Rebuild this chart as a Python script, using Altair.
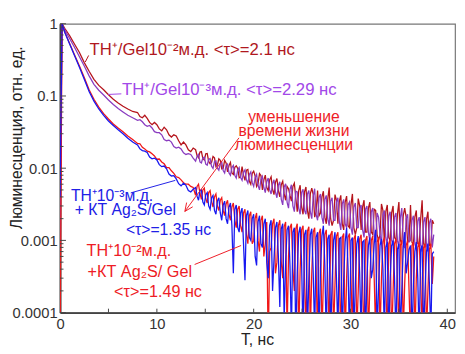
import altair as alt
import pandas as pd

# ---------------- data ----------------
t_early = [0.0, 0.2, 0.5, 1.0, 1.5, 2.0, 2.5, 3.0, 3.5, 4.0, 4.5, 5.0, 5.5, 6.0, 6.5, 7.0, 7.5]
t_mid = [8.0, 8.5, 9.0, 9.5, 10.0, 10.5, 11.0, 11.5, 12.0, 12.5, 13.0, 13.5]
t_mid2 = [8.25, 8.75, 9.25, 9.75, 10.25, 10.75, 11.25, 11.75, 12.25, 12.75, 13.25, 13.75]
t_tail = [round(14.0 + 0.3 * i, 2) for i in range(83)]    # 14.0 ... 38.6 ns
t_tail2 = [round(14.15 + 0.3 * i, 2) for i in range(82)]  # 14.15 ... 38.45 ns
times = t_early + t_mid + t_mid2 + t_tail + t_tail2

# TH+/Gel 10^-2 (dark red)
dr_early = [0.002, 1.0, 0.86, 0.68, 0.52, 0.40, 0.29, 0.22, 0.17, 0.14, 0.122, 0.104, 0.09, 0.08, 0.072, 0.066, 0.061]
dr_mid = [0.059, 0.050, 0.049, 0.040, 0.040, 0.033, 0.034, 0.027, 0.028, 0.021, 0.021, 0.017]
dr_mid2 = [0.052, 0.054, 0.043, 0.043, 0.035, 0.037, 0.029, 0.029, 0.024, 0.023, 0.018, 0.019]
dr_tail = [0.018, 0.014, 0.017, 0.013, 0.016, 0.0115, 0.0145, 0.0105, 0.0135, 0.0098,
           0.0128, 0.0089, 0.012, 0.0082, 0.0108, 0.0074, 0.0105, 0.0068, 0.0096, 0.006,
           0.0091, 0.0056, 0.0084, 0.005, 0.008, 0.0049, 0.0076, 0.0043, 0.0072, 0.004,
           0.0066, 0.0036, 0.0052, 0.0035, 0.0062, 0.0025, 0.0058, 0.0023, 0.0055, 0.002,
           0.0053, 0.0021, 0.0049, 0.0024, 0.0048, 0.0017, 0.0054, 0.0016, 0.0043, 0.0017,
           0.0042, 0.0014, 0.0041, 0.0015, 0.0044, 0.0012, 0.0038, 0.0014, 0.0036, 0.0013,
           0.0034, 0.0012, 0.0026, 0.001, 0.0032, 0.0009, 0.0031, 0.001, 0.003, 0.001,
           0.0034, 0.0009, 0.0028, 0.00095, 0.0031, 0.00085, 0.0026, 0.0009, 0.0036, 0.0008,
           0.0025, 0.00085, 0.0017]
dr_tail2 = [0.015, 0.0168, 0.0136, 0.0158, 0.0124, 0.012, 0.0139, 0.011, 0.0129, 0.01,
            0.0118, 0.0109, 0.0086, 0.0103, 0.0099, 0.0076, 0.008, 0.0094, 0.0066, 0.0085,
            0.0078, 0.0061, 0.0079, 0.0069, 0.0054, 0.0069, 0.0051, 0.0064, 0.0049, 0.0059,
            0.0044, 0.0056, 0.0042, 0.0056, 0.0039, 0.0049, 0.0029, 0.0047, 0.0026, 0.0044,
            0.0043, 0.0025, 0.0022, 0.004, 0.0021, 0.0037, 0.002, 0.0019, 0.0036, 0.0035,
            0.0017, 0.0034, 0.0016, 0.0031, 0.0015, 0.0015, 0.003, 0.0029, 0.0013, 0.0028,
            0.0013, 0.0027, 0.0012, 0.0012, 0.0026, 0.0025, 0.0011, 0.0024, 0.0011, 0.0023,
            0.001, 0.0022, 0.0021, 0.001, 0.00095, 0.0021, 0.0009, 0.002, 0.0009, 0.00195,
            0.00085, 0.0019]

# TH+/Gel 10^-3 (purple)
pu_early = [0.0008, 1.0, 0.82, 0.62, 0.47, 0.35, 0.26, 0.19, 0.145, 0.12, 0.103, 0.088, 0.076, 0.067, 0.060, 0.054, 0.050]
pu_mid = [0.046, 0.044, 0.038, 0.036, 0.031, 0.029, 0.024, 0.023, 0.019, 0.0185, 0.0155, 0.0155]
pu_mid2 = [0.047, 0.040, 0.039, 0.032, 0.031, 0.025, 0.0245, 0.020, 0.0195, 0.0163, 0.0159, 0.0138]
pu_tail = [0.0125, 0.0155, 0.0118, 0.0142, 0.011, 0.0136, 0.0099, 0.0126, 0.0094, 0.0121,
           0.0086, 0.0114, 0.008, 0.0109, 0.0073, 0.0102, 0.0068, 0.0095, 0.0062, 0.0089,
           0.0056, 0.0082, 0.005, 0.0077, 0.0046, 0.0073, 0.0044, 0.0069, 0.0039, 0.0065,
           0.0031, 0.0061, 0.0028, 0.0059, 0.0025, 0.0047, 0.0023, 0.0051, 0.0023, 0.0049,
           0.002, 0.0052, 0.0019, 0.0044, 0.0017, 0.0042, 0.0016, 0.0039, 0.0019, 0.0039,
           0.0014, 0.0037, 0.0015, 0.0034, 0.0012, 0.0033, 0.0015, 0.0031, 0.0011, 0.003,
           0.001, 0.0028, 0.00095, 0.0021, 0.0009, 0.0026, 0.00088, 0.0025, 0.00085, 0.0024,
           0.0008, 0.0028, 0.00078, 0.0023, 0.001, 0.0022, 0.00075, 0.0021, 0.0007, 0.0021,
           0.0007, 0.002, 0.0012]
pu_tail2 = [0.0146, 0.0122, 0.0139, 0.0114, 0.0132, 0.0106, 0.0123, 0.01, 0.0116, 0.0093,
            0.0109, 0.0086, 0.0102, 0.008, 0.0095, 0.0074, 0.0088, 0.0069, 0.0082, 0.0063,
            0.0074, 0.0058, 0.007, 0.0054, 0.0065, 0.005, 0.0061, 0.0047, 0.0058, 0.0037,
            0.0055, 0.0034, 0.0051, 0.003, 0.0048, 0.0028, 0.0046, 0.0026, 0.0044, 0.0025,
            0.0041, 0.0023, 0.0039, 0.0021, 0.0037, 0.002, 0.0035, 0.0019, 0.0034, 0.0018,
            0.0032, 0.0017, 0.0031, 0.0015, 0.0029, 0.0015, 0.0028, 0.0014, 0.0027, 0.0013,
            0.0025, 0.0012, 0.0024, 0.0012, 0.0023, 0.0011, 0.0022, 0.001, 0.0021, 0.001,
            0.00205, 0.001, 0.002, 0.00095, 0.0019, 0.0009, 0.00185, 0.00085, 0.0018, 0.00085,
            0.00175, 0.0008]

# TH+ 10^-3 + KT Ag2S/Gel (blue)
bl_early = [0.004, 1.0, 0.75, 0.52, 0.36, 0.25, 0.17, 0.115, 0.085, 0.066, 0.054, 0.045, 0.039, 0.034, 0.030, 0.026, 0.023]
bl_mid = [0.021, 0.0175, 0.0165, 0.0135, 0.013, 0.0105, 0.0098, 0.0078, 0.0071, 0.0057, 0.0058, 0.0047]
bl_mid2 = [0.0185, 0.0172, 0.0143, 0.0138, 0.0112, 0.0107, 0.0083, 0.0079, 0.0061, 0.0062, 0.0049, 0.0051]
bl_tail = [0.0054, 0.0036, 0.005, 0.0031, 0.0046, 0.0027, 0.0042, 0.0023, 0.0039, 0.0019,
           0.0035, 0.0017, 0.0033, 0.00035, 0.0031, 0.0013, 0.0028, 0.00028, 0.0026, 0.001,
           0.0023, 0.00045, 0.0022, 0.0008, 0.002, 0.0003, 0.0019, 0.00055, 0.0018, 0.00012,
           0.0017, 0.0005, 0.0016, 0.00005, 0.0015, 0.00035, 0.00155, 0.00004, 0.0014, 0.0003,
           0.00145, 0.00005, 0.0013, 0.0004, 0.0016, 0.00004, 0.0012, 0.00025, 0.0013, 0.00005,
           0.0011, 0.0003, 0.0015, 0.00004, 0.0011, 0.00025, 0.00115, 0.00005, 0.001, 0.0003,
           0.0011, 0.0004, 0.0014, 0.00022, 0.00105, 0.00005, 0.00095, 0.0003, 0.001, 0.00004,
           0.0009, 0.0002, 0.0013, 0.0005, 0.00085, 0.00025, 0.00095, 0.00004, 0.00085, 0.0002,
           0.0009, 0.00005, 0.0007]
bl_tail2 = [0.0041, 0.0049, 0.0034, 0.0043, 0.003, 0.0039, 0.0026, 0.0035, 0.0024, 0.0031,
            0.002, 0.0029, 0.0016, 0.0027, 0.0015, 0.0024, 0.0009, 0.0022, 0.0011, 0.002,
            0.0006, 0.0018, 0.0009, 0.0017, 0.0005, 0.0016, 0.0002, 0.0015, 0.0006, 0.00145,
            0.00008, 0.0014, 0.00045, 0.0013, 0.00004, 0.00125, 0.0005, 0.0012, 0.00005, 0.0012,
            0.00035, 0.0011, 0.00004, 0.00115, 0.00045, 0.00105, 0.00005, 0.001, 0.0003, 0.00105,
            0.00004, 0.00095, 0.0004, 0.001, 0.00005, 0.0009, 0.00035, 0.00095, 0.00004, 0.00085,
            0.0003, 0.0009, 0.00005, 0.00085, 0.0004, 0.0008, 0.00004, 0.00085, 0.0003, 0.00075,
            0.00005, 0.0008, 0.00035, 0.00075, 0.00004, 0.0007, 0.0003, 0.00075, 0.00005, 0.0007,
            0.00025, 0.00065]

# TH+ 10^-2 + KT Ag2S/Gel (red)
rd_early = [0.00003, 1.0, 0.76, 0.53, 0.37, 0.26, 0.18, 0.122, 0.09, 0.07, 0.057, 0.048, 0.041, 0.036, 0.032, 0.028, 0.025]
rd_mid = [0.022, 0.0195, 0.0172, 0.0158, 0.0133, 0.0122, 0.0102, 0.0092, 0.0076, 0.0069, 0.006, 0.0056]
rd_mid2 = [0.0218, 0.0185, 0.0168, 0.0148, 0.0134, 0.0115, 0.0102, 0.0085, 0.0074, 0.0063, 0.006, 0.0054]
rd_tail = [0.0042, 0.006, 0.0037, 0.0053, 0.0033, 0.0049, 0.0029, 0.0044, 0.0026, 0.0039,
           0.0022, 0.0036, 0.0019, 0.0033, 0.0015, 0.003, 0.0013, 0.0027, 0.0009, 0.0025,
           0.001, 0.0024, 0.0007, 0.0022, 0.0009, 0.00003, 0.0008, 0.002, 0.0005, 0.0019,
           0.0003, 0.0018, 0.0006, 0.0017, 0.0002, 0.0017, 0.0004, 0.0016, 0.00005, 0.00155,
           0.00035, 0.0015, 0.00004, 0.00145, 0.0003, 0.0014, 0.00005, 0.00135, 0.00025, 0.0013,
           0.00004, 0.00125, 0.0003, 0.00125, 0.00005, 0.0012, 0.0002, 0.0012, 0.00004, 0.00115,
           0.00025, 0.00115, 0.00005, 0.0011, 0.0003, 0.0011, 0.00004, 0.00105, 0.0002, 0.00105,
           0.00005, 0.001, 0.00025, 0.001, 0.00004, 0.00095, 0.0003, 0.00095, 0.00005, 0.0009,
           0.0002, 0.0009, 0.0006]
rd_tail2 = [0.0056, 0.0045, 0.005, 0.0038, 0.0046, 0.0035, 0.004, 0.003, 0.0036, 0.0026,
            0.0032, 0.0023, 0.0029, 0.0019, 0.0027, 0.0016, 0.0024, 0.0012, 0.0022, 0.0009,
            0.002, 0.001, 0.0019, 0.0006, 0.0018, 0.0007, 0.0017, 0.00035, 0.0016, 0.0005,
            0.00155, 0.00005, 0.0015, 0.0004, 0.00145, 0.00004, 0.0014, 0.0003, 0.00135, 0.00005,
            0.0013, 0.0004, 0.00125, 0.00004, 0.0012, 0.0003, 0.0012, 0.00005, 0.00115, 0.00035,
            0.0011, 0.00004, 0.0011, 0.0003, 0.00105, 0.00005, 0.00105, 0.00025, 0.001, 0.00004,
            0.001, 0.0003, 0.00095, 0.00005, 0.00095, 0.00025, 0.0009, 0.00004, 0.0009, 0.0003,
            0.00085, 0.00005, 0.00085, 0.0002, 0.00085, 0.00004, 0.0008, 0.0003, 0.0008, 0.00005,
            0.00075, 0.00025]

x_ticks = [0, 10, 20, 30, 40]
x_minor = [5, 10, 15, 20, 25, 30, 35, 40]
y_ticks = [0.0001, 0.001, 0.01, 0.1, 1]
y_minor = [m * d for d in [0.0001, 0.001, 0.01, 0.1] for m in range(2, 10)]

# ---------------- styling ----------------
FONT = "Liberation Sans"
C_DR, C_PU, C_BL, C_RD = "#B5141C", "#8A3CC0", "#1818F0", "#F01818"
T_DR, T_PU, T_BL, T_RD = "#B0181E", "#A248E8", "#2020E6", "#EE1C26"

xscale = alt.Scale(domain=[0, 40.8], nice=False, zero=False)
yscale = alt.Scale(type="log", domain=[0.0001, 1], nice=False)
xaxis = alt.Axis(values=x_ticks, ticks=False, grid=False, title=None, labelFontSize=15,
                 labelFont=FONT, labelColor="#333", domainColor="#444", domainWidth=2,
                 labelPadding=4, labelFlush=False)
yaxis = alt.Axis(values=y_ticks, format="~g", ticks=False, grid=False, title=None,
                 labelFontSize=15, labelFont=FONT, labelColor="#333", domainColor="#444",
                 domainWidth=2, labelPadding=3)


def line(parts, color):
    vals = [v for p in parts for v in p]
    df = pd.DataFrame({"t": times, "v": vals})
    return alt.Chart(df).mark_line(color=color, strokeWidth=1.3, clip=True).encode(
        x=alt.X("t:Q", scale=xscale, axis=xaxis),
        y=alt.Y("v:Q", scale=yscale, axis=yaxis),
    )


lines = [line([dr_early, dr_mid, dr_mid2, dr_tail, dr_tail2], C_DR),
         line([pu_early, pu_mid, pu_mid2, pu_tail, pu_tail2], C_PU),
         line([rd_early, rd_mid, rd_mid2, rd_tail, rd_tail2], C_RD),
         line([bl_early, bl_mid, bl_mid2, bl_tail, bl_tail2], C_BL)]

# inward ticks
ytk_major = alt.Chart(pd.DataFrame({"v": y_ticks})).mark_rule(color="#444", strokeWidth=1).encode(
    y=alt.Y("v:Q", scale=yscale), x=alt.value(0), x2=alt.value(6))
ytk_minor = alt.Chart(pd.DataFrame({"v": y_minor})).mark_rule(color="#444", strokeWidth=1).encode(
    y=alt.Y("v:Q", scale=yscale), x=alt.value(0), x2=alt.value(3.5))
xtk = alt.Chart(pd.DataFrame({"t": x_minor})).mark_rule(color="#444", strokeWidth=1).encode(
    x=alt.X("t:Q", scale=xscale), y=alt.value(294), y2=alt.value(290))


# annotations
def texts(xs, ys, labels, color, align="left", size=16):
    df = pd.DataFrame({"x": xs, "y": ys, "label": labels})
    return alt.Chart(df).mark_text(align=align, baseline="middle", font=FONT, fontSize=size,
                                   color=color).encode(
        x=alt.X("x:Q", scale=xscale), y=alt.Y("y:Q", scale=yscale), text="label:N")


def segs(x1, x2, y1, y2, color):
    df = pd.DataFrame({"x": x1, "x2": x2, "y": y1, "y2": y2})
    return alt.Chart(df).mark_rule(color=color, strokeWidth=1).encode(
        x=alt.X("x:Q", scale=xscale), x2="x2:Q", y=alt.Y("y:Q", scale=yscale), y2="y2:Q")


ann = [
    texts([3.05], [0.43], ["TH⁺/Gel10⁻²м.д. <τ>=2.1 нс"], T_DR, size=17),
    texts([6.4], [0.1226], ["TH⁺/Gel10⁻³м.д. <τ>=2.29 нс"], T_PU, size=17),
    texts([24.16, 24.16, 24.16], [0.051, 0.0329, 0.0212],
          ["уменьшение", "времени жизни", "люминесценции"], T_RD, align="center"),
    texts([1.12, 1.52, 6.8], [0.00409, 0.0026, 0.00139],
          ["TH⁺10⁻³м.д.", "+ КТ Ag₂S/Gel", "<τ>=1.35 нс"], T_BL),
    texts([2.74, 2.84, 5.58], [0.00072, 0.00037, 0.000193],
          ["TH⁺10⁻²м.д.", "+КТ Ag₂S/ Gel", "<τ>=1.49 нс"], T_RD, size=16.5),
    segs([2.6], [2.95], [0.295], [0.364], C_DR),
    segs([4.97], [6.33], [0.105], [0.107], T_PU),
    segs([7.3], [11.9], [0.00455], [0.00678], T_BL),
    segs([13.9], [18.7], [0.000464], [0.00085], T_RD),
    segs([18.48, 12.89, 12.89], [12.89, 13.7, 13.07], [0.0263, 0.00252, 0.00252],
         [0.00252, 0.00292, 0.00334], T_RD),
]

titles = [
    alt.Chart(pd.DataFrame({"s": ["Люминесценция, отн. ед."]})).mark_text(
        angle=270, font=FONT, fontSize=16, color="#222", baseline="middle", align="center").encode(
        x=alt.value(-44), y=alt.value(116), text="s:N"),
    alt.Chart(pd.DataFrame({"s": ["Т, нс"]})).mark_text(
        font=FONT, fontSize=16, color="#222", baseline="middle", align="center").encode(
        x=alt.value(201), y=alt.value(322), text="s:N"),
]

chart = alt.layer(*lines, ytk_major, ytk_minor, xtk, *ann, *titles).properties(
    width=402, height=294,
    autosize=alt.AutoSizeParams(type="none"),
    padding={"left": 53, "top": 13, "right": 2, "bottom": 35},
    background="white",
).configure_view(stroke="#777", strokeWidth=1.2)

chart.save("out.html", embed_options={"renderer": "svg", "actions": False})
